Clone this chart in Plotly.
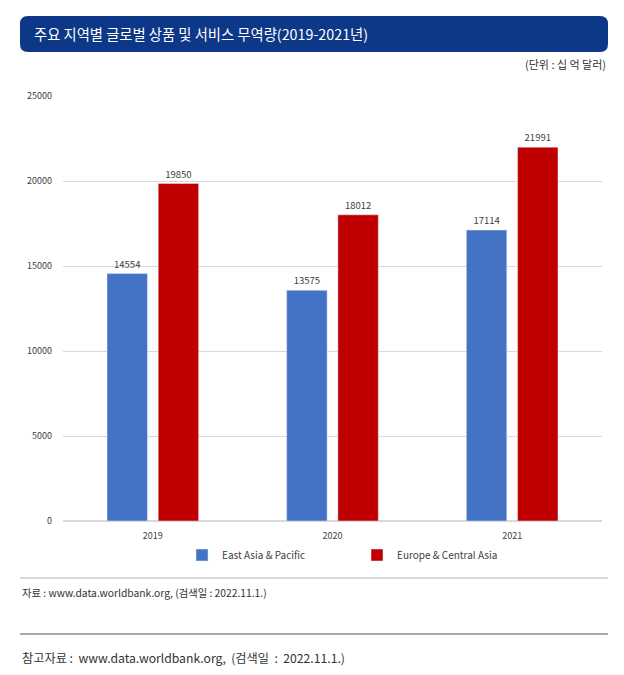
import plotly.graph_objects as go

W, H = 624, 675
OFF = 8  # the page puts the figure 8px in from the top-left corner

years = ['2019', '2020', '2021']
east_asia = [14554, 13575, 17114]
europe = [19850, 18012, 21991]
y_ticks = [0, 5000, 10000, 15000, 20000, 25000]

FONT = 'Noto Sans CJK KR'


def px(x):
    return (x - OFF) / W


def py(y):
    return 1 - (y - OFF) / H


fig = go.Figure()
fig.add_trace(go.Bar(x=years, y=east_asia, name='East Asia & Pacific',
                     marker_color='#4472C4', text=east_asia, textposition='outside',
                     textfont=dict(size=9.5, color='#404040'), cliponaxis=False))
fig.add_trace(go.Bar(x=years, y=europe, name='Europe & Central Asia',
                     marker_color='#C00000', text=europe, textposition='outside',
                     textfont=dict(size=9.5, color='#404040'), cliponaxis=False))

# rounded title banner
x0, x1, y0, y1, r = 20, 608, 16, 52, 8
path = (f'M {px(x0 + r)},{py(y0)} L {px(x1 - r)},{py(y0)} '
        f'Q {px(x1)},{py(y0)} {px(x1)},{py(y0 + r)} '
        f'L {px(x1)},{py(y1 - r)} Q {px(x1)},{py(y1)} {px(x1 - r)},{py(y1)} '
        f'L {px(x0 + r)},{py(y1)} Q {px(x0)},{py(y1)} {px(x0)},{py(y1 - r)} '
        f'L {px(x0)},{py(y0 + r)} Q {px(x0)},{py(y0)} {px(x0 + r)},{py(y0)} Z')

shapes = [
    dict(type='path', path=path, xref='paper', yref='paper',
         fillcolor='#0d3888', line=dict(width=0)),
    dict(type='line', xref='paper', yref='paper', x0=px(20), x1=px(608),
         y0=py(578), y1=py(578), line=dict(color='#b0b0b0', width=1)),
    dict(type='line', xref='paper', yref='paper', x0=px(20), x1=px(608),
         y0=py(634), y1=py(634), line=dict(color='#555555', width=1)),
]


def note(text, x, y, anchor, size, color='#333333'):
    return dict(text=text, x=px(x), y=py(y), xref='paper', yref='paper',
                xanchor=anchor, yanchor='middle', showarrow=False,
                font=dict(family=FONT, size=size, color=color))


annotations = [
    note('주요 지역별 글로벌 상품 및 서비스 무역량(2019-2021년)', 32, 34, 'left', 14.3, 'white'),
    note('(단위 : 십 억 달러)', 608, 64, 'right', 11),
    note('자료 : www.data.worldbank.org, (검색일 : 2022.11.1.)', 20, 592, 'left', 10.3),
    note('참고자료 :  www.data.worldbank.org,  (검색일  :  2022.11.1.)', 20, 658, 'left', 12.2),
]

fig.update_layout(
    width=W, height=H,
    margin=dict(l=0, r=0, t=0, b=0),
    paper_bgcolor='white', plot_bgcolor='white',
    font=dict(family=FONT, size=9, color='#404040'),
    barmode='group', bargap=0.43, bargroupgap=0.21,
    showlegend=True,
    legend=dict(orientation='h', x=px(357), xanchor='center', y=py(555), yanchor='middle',
                font=dict(size=10, color='#404040'), entrywidth=130, itemwidth=30,
                bgcolor='rgba(0,0,0,0)'),
    shapes=shapes, annotations=annotations,
    xaxis=dict(domain=[px(63), px(602)], showgrid=False, showline=False, ticks='',
               ticklabelstandoff=8,
               tickfont=dict(size=9, color='#404040'), automargin=False),
    yaxis=dict(domain=[py(521), py(96)], range=[0, 25000], tickvals=y_ticks,
               tickformat='d',
               gridcolor='#d9d9d9', gridwidth=1, zeroline=True, zerolinecolor='#d9d9d9',
               showline=False, ticks='', ticklabelstandoff=10,
               tickfont=dict(size=9, color='#404040'), automargin=False),
)

fig.write_html('out.html')
